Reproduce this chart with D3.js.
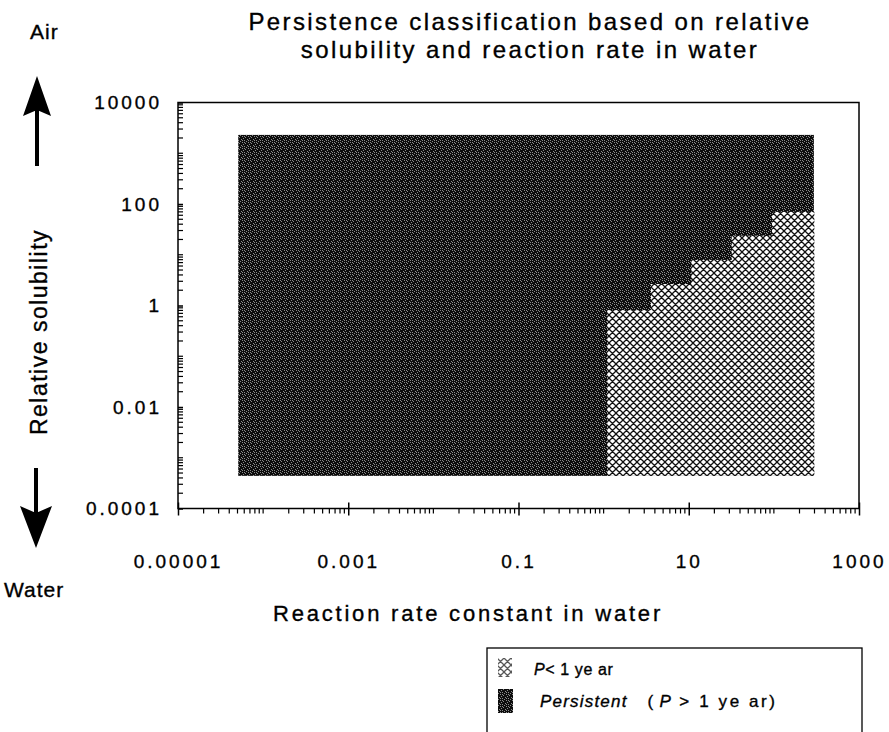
<!DOCTYPE html>
<html>
<head>
<meta charset="utf-8">
<script src="https://cdn.jsdelivr.net/npm/d3@7"></script>
<style>
  body { margin: 0; background: #fff; }
  svg { font-family: "Liberation Sans", Arial, sans-serif; }
  .txt { fill: #000; stroke: #000; stroke-width: 0.35px; }
</style>
</head>
<body>
<svg id="chart" width="889" height="732"></svg>
<script>
// область расчёта (границы всей сетки)
const rateRange = [5.1e-5, 295];        // константа скорости реакции в воде
const solRange = [4.4e-4, 2300];        // относительная растворимость

// ступеньки области "P < 1 year": границы по X и верхняя граница по Y
const stepRate = [1.1, 3.6, 10.7, 32, 95, 295];
const stepSol = [0.81, 2.65, 7.9, 23.7, 70];

// подписи осей
const xTicks = [1e-5, 1e-3, 1e-1, 10, 1000];
const xTickLabels = ["0.00001", "0.001", "0.1", "10", "1000"];
const yTicks = [1e4, 100, 1, 0.01, 1e-4];
const yTickLabels = ["10000", "100", "1", "0.01", "0.0001"];

const legendLabels = ["P< 1 ye ar", "Persistent"];

const svg = d3.select("#chart");

let attr_area = { left: 178, right: 859, top: 102.5, bottom: 508.5 };

const scX = d3.scaleLog().domain([1e-5, 1e3]).range([attr_area.left, attr_area.right]);
const scY = d3.scaleLog().domain([1e-4, 1e4]).range([attr_area.bottom, attr_area.top]);

// узоры заливки
const defs = svg.append("defs");
const pDark = defs.append("pattern").attr("id", "dark")
    .attr("patternUnits", "userSpaceOnUse").attr("width", 6).attr("height", 6);
pDark.append("rect").attr("width", 6).attr("height", 6).attr("fill", "#0c0c0c");
[[1, 1], [4, 2], [2, 4], [5, 5], [0, 3], [3, 0], [4, 4], [2, 2]].forEach(p => {
    pDark.append("rect").attr("x", p[0]).attr("y", p[1]).attr("width", 1).attr("height", 1).attr("fill", "#8a8a8a");
});

const pLight = defs.append("pattern").attr("id", "light")
    .attr("patternUnits", "userSpaceOnUse").attr("width", 7).attr("height", 7);
pLight.append("rect").attr("width", 7).attr("height", 7).attr("fill", "#fff");
pLight.append("path").attr("d", "M0,0L7,7M7,0L0,7M-1,6L1,8M6,-1L8,1")
    .attr("stroke", "#111").attr("stroke-width", 1.3).attr("fill", "none");

// тёмная область (устойчивые вещества)
svg.append("rect")
    .attr("x", scX(rateRange[0]))
    .attr("y", scY(solRange[1]))
    .attr("width", scX(rateRange[1]) - scX(rateRange[0]))
    .attr("height", scY(solRange[0]) - scY(solRange[1]))
    .attr("fill", "url(#dark)");

// светлые ступеньки
svg.selectAll(".step")
    .data(stepSol)
    .enter()
    .append("rect")
    .attr("class", "step")
    .attr("x", (d, i) => scX(stepRate[i]))
    .attr("y", d => scY(d))
    .attr("width", (d, i) => scX(stepRate[i + 1]) - scX(stepRate[i]) + 0.5)
    .attr("height", d => scY(solRange[0]) - scY(d))
    .attr("fill", "url(#light)");

// рамка
svg.append("rect")
    .attr("x", attr_area.left).attr("y", attr_area.top)
    .attr("width", attr_area.right - attr_area.left)
    .attr("height", attr_area.bottom - attr_area.top)
    .attr("fill", "none").attr("stroke", "#000").attr("stroke-width", 1.5);

// ось X
const axisX = d3.axisBottom(scX)
    .tickValues(xTicks)
    .tickFormat((d, i) => xTickLabels[i])
    .tickSizeInner(7).tickSizeOuter(0).tickPadding(30);
const gx = svg.append("g")
    .attr("transform", `translate(0, ${attr_area.bottom})`)
    .call(axisX);
gx.select(".domain").remove();
gx.selectAll(".tick line").attr("y1", -6).attr("stroke-width", 1.5);
gx.selectAll("text").attr("class", "txt").attr("y", 0).attr("dy", "59px")
    .style("font-size", "19px").style("letter-spacing", "3px");

gx.selectAll(".minor")
    .data(scX.ticks().filter(d => !xTicks.includes(d)))
    .enter()
    .append("line")
    .attr("class", "minor")
    .attr("x1", d => scX(d)).attr("x2", d => scX(d))
    .attr("y1", 0).attr("y2", 5)
    .attr("stroke", "#000").attr("stroke-width", 1.2);

// ось Y
const axisY = d3.axisLeft(scY)
    .tickValues(yTicks)
    .tickFormat((d, i) => yTickLabels[i])
    .tickSizeInner(6).tickSizeOuter(0).tickPadding(10);
const gy = svg.append("g")
    .attr("transform", `translate(${attr_area.left}, 0)`)
    .call(axisY);
gy.select(".domain").remove();
gy.selectAll(".tick line").attr("x2", 5).attr("stroke-width", 1.5);
gy.selectAll("text").attr("class", "txt")
    .style("font-size", "19px").style("letter-spacing", "3px");

gy.selectAll(".minor")
    .data(scY.ticks().filter(d => !yTicks.includes(d)))
    .enter()
    .append("line")
    .attr("class", "minor")
    .attr("y1", d => scY(d)).attr("y2", d => scY(d))
    .attr("x1", 0).attr("x2", 5)
    .attr("stroke", "#000").attr("stroke-width", 1.2);

// заголовок (две строки)
svg.append("text")
    .attr("class", "txt")
    .attr("x", 530).attr("y", 30)
    .attr("text-anchor", "middle")
    .style("font-size", "24px").style("letter-spacing", "2.4px")
    .text("Persistence classification based on relative");
svg.append("text")
    .attr("class", "txt")
    .attr("x", 530).attr("y", 58)
    .attr("text-anchor", "middle")
    .style("font-size", "24px").style("letter-spacing", "2.4px")
    .text("solubility and reaction rate in water");

// подписи осей
svg.append("text")
    .attr("class", "txt")
    .attr("x", 468).attr("y", 621)
    .attr("text-anchor", "middle")
    .style("font-size", "22px").style("letter-spacing", "2.8px")
    .text("Reaction rate constant in water");

svg.append("text")
    .attr("class", "txt")
    .attr("transform", "translate(47, 332) rotate(-90)")
    .attr("text-anchor", "middle")
    .style("font-size", "23px").style("letter-spacing", "1.5px")
    .text("Relative solubility");

svg.append("text").attr("class", "txt").attr("x", 30).attr("y", 39)
    .style("font-size", "21px").style("letter-spacing", "1px").text("Air");
svg.append("text").attr("class", "txt").attr("x", 4).attr("y", 597)
    .style("font-size", "21px").style("letter-spacing", "1px").text("Water");

// стрелки
svg.append("line").attr("x1", 37).attr("x2", 37).attr("y1", 166).attr("y2", 110)
    .attr("stroke", "#000").attr("stroke-width", 4);
svg.append("path").attr("d", "M37,76L51,116L37,110L23,116Z").attr("fill", "#000");
svg.append("line").attr("x1", 36).attr("x2", 36).attr("y1", 468).attr("y2", 515)
    .attr("stroke", "#000").attr("stroke-width", 4);
svg.append("path").attr("d", "M36,548L52,506L36,513L20,506Z").attr("fill", "#000");

// легенда
svg.append("rect")
    .attr("x", 487).attr("y", 648).attr("width", 375).attr("height", 100)
    .attr("fill", "none").attr("stroke", "#000").attr("stroke-width", 1.3);

svg.append("rect").attr("x", 498).attr("y", 658).attr("width", 14).attr("height", 19)
    .attr("fill", "url(#light)").attr("opacity", 0.7);
svg.append("rect").attr("x", 498).attr("y", 689).attr("width", 15).attr("height", 24)
    .attr("fill", "url(#dark)");

const leg1 = svg.append("text").attr("class", "txt").attr("x", 534).attr("y", 675)
    .style("font-size", "16px").style("letter-spacing", "0.6px");
leg1.append("tspan").style("font-style", "italic").text("P");
leg1.append("tspan").text("< 1 ye ar");

const leg2 = svg.append("text").attr("class", "txt").attr("x", 540).attr("y", 707)
    .style("font-size", "17px").style("letter-spacing", "1.2px");
leg2.append("tspan").style("font-style", "italic").text(legendLabels[1]);
leg2.append("tspan").attr("dx", 20).text("(");
leg2.append("tspan").attr("dx", 5).style("font-style", "italic").text("P");
leg2.append("tspan").style("letter-spacing", "2.6px").text(" >  1  ye ar)");
</script>
</body>
</html>
